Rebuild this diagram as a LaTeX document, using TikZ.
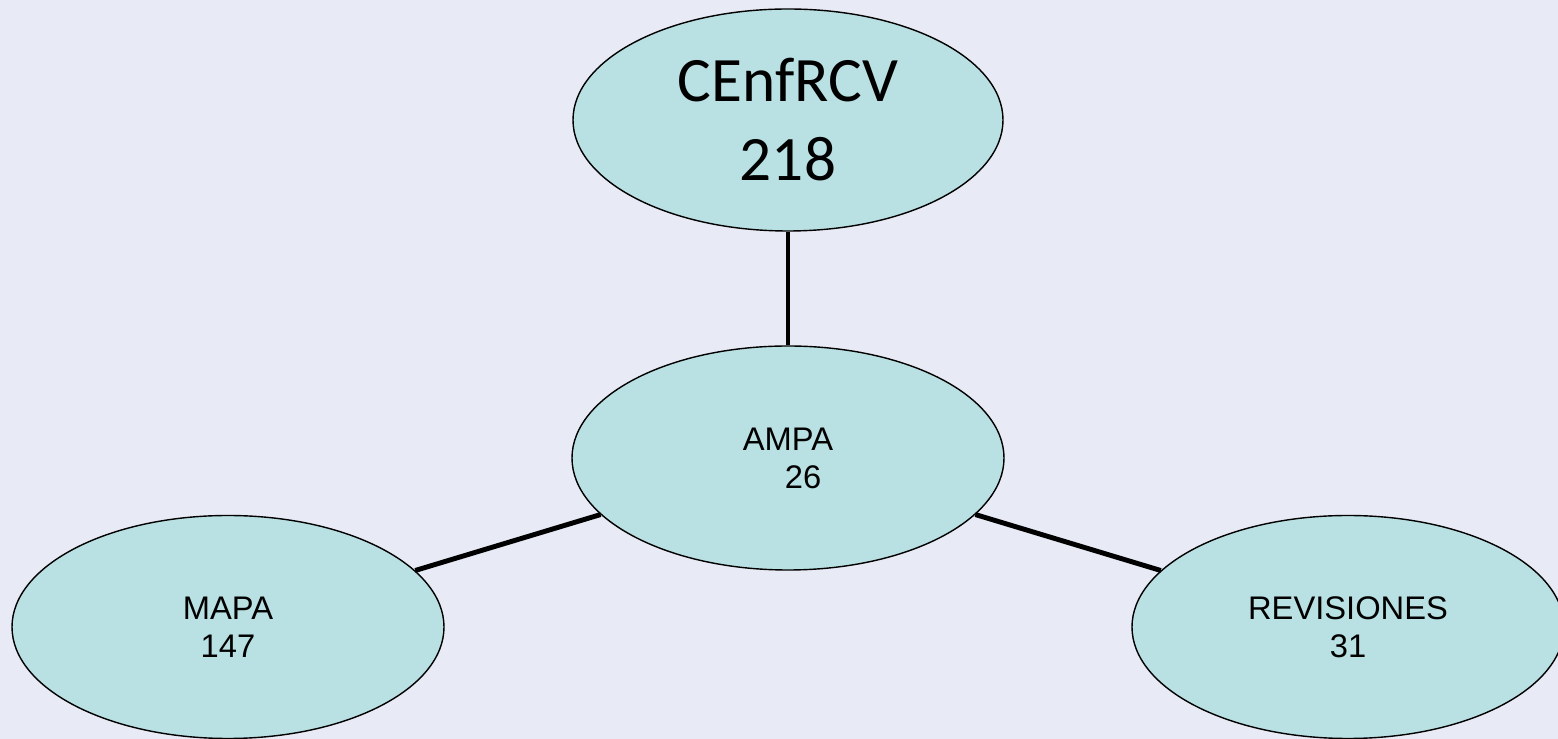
\documentclass[tikz,border=0pt]{standalone}
\usepackage{fontspec}
\setmainfont{Liberation Sans}
\newfontfamily\titlefont{Carlito}
\usepackage{tikz}
\usetikzlibrary{shapes,positioning}

\definecolor{bgblue}{HTML}{E8EBF5}
\definecolor{bubble}{HTML}{B9E0E3}

\begin{document}
\begin{tikzpicture}
    \tikzstyle{bnode} = [draw=black, line width=0.4pt, fill=bubble, ellipse, inner sep = 0pt, align=center]
    \tikzstyle{smalltext} = [font=\fontsize{9.3}{10.8}\selectfont]
    \tikzstyle{link} = [line width=1.4pt]
    % background, fixes the page size
    \fill[bgblue] (0,0) rectangle (15.58,7.39);
    \useasboundingbox (0,0) rectangle (15.58,7.39);
    \node[bnode, minimum width=4.30cm, minimum height=2.22cm,
          font=\titlefont\fontsize{18}{22.5}\selectfont] (cenf) at (7.88,6.19) {CEnfRCV\\218};
    \node[bnode, smalltext, minimum width=4.32cm, minimum height=2.24cm] (ampa) at (7.88,2.81) {AMPA\\\hspace*{0.3cm}26};
    \node[bnode, smalltext, minimum width=4.32cm, minimum height=2.23cm] (mapa) at (2.28,1.12) {MAPA\\147};
    \node[bnode, smalltext, minimum width=4.32cm, minimum height=2.23cm] (revis) at (13.48,1.12) {REVISIONES\\31};
    \draw[link] (cenf) -- (ampa);
    \draw[link] (ampa) -- (mapa);
    \draw[link] (ampa) -- (revis);
\end{tikzpicture}
\end{document}
